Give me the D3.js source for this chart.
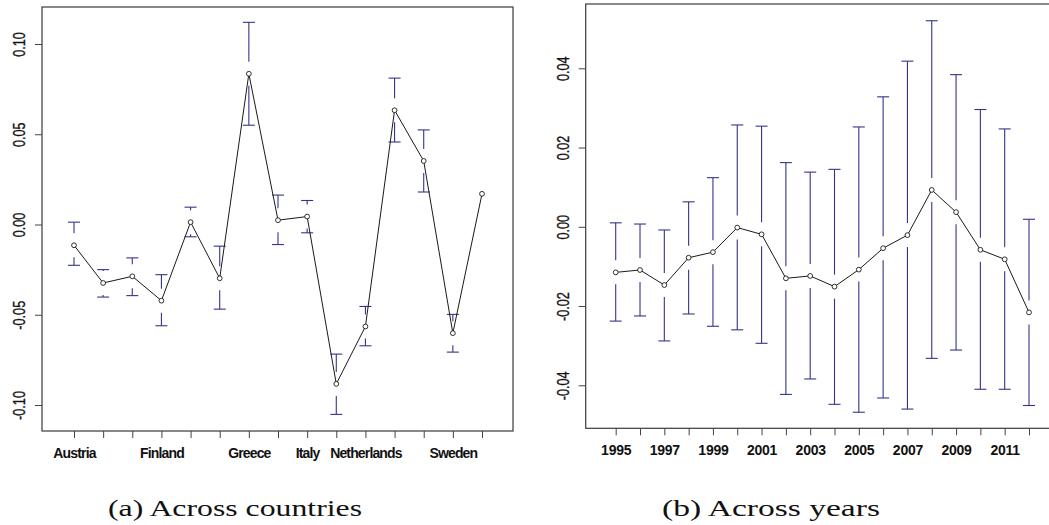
<!DOCTYPE html>
<html>
<head>
<meta charset="utf-8">
<script src="https://cdn.jsdelivr.net/npm/d3@7"></script>
<style>
  body { margin: 0; background: #fff; }
  svg { display: block; }
</style>
</head>
<body>
<div id="chart"></div>
<script>
// Estimates with confidence bars, by country (a) and by year (b)

const countries = ["Austria", "Belgium", "Denmark", "Finland", "France", "Germany", "Greece", "Ireland",
  "Italy", "Luxembourg", "Netherlands", "Portugal", "Spain", "Sweden", "United Kingdom"];
const countryLabels = ["Austria", "Finland", "Greece", "Italy", "Netherlands", "Sweden"];
const countryEst = [-0.0115, -0.0324, -0.0287, -0.0422, 0.0013, -0.0298, 0.0835, 0.0024,
  0.0044, -0.0883, -0.0565, 0.0633, 0.0352, -0.0602, 0.0170];
const countryUpper = [0.0013, -0.0250, -0.0185, -0.0278, 0.0096, -0.0120, 0.1120, 0.0163,
  0.0133, -0.0718, -0.0454, 0.0811, 0.0524, -0.0498, null];
const countryLower = [-0.0226, -0.0402, -0.0394, -0.0561, -0.0068, -0.0469, 0.0550, -0.0111,
  -0.0046, -0.1052, -0.0672, 0.0457, 0.0180, -0.0707, null];
const countryTicks = [-0.10, -0.05, 0.00, 0.05, 0.10];

const years = [1995, 1996, 1997, 1998, 1999, 2000, 2001, 2002, 2003, 2004, 2005, 2006,
  2007, 2008, 2009, 2010, 2011, 2012];
const yearLabels = [1995, 1997, 1999, 2001, 2003, 2005, 2007, 2009, 2011];
const yearEst = [-0.0115, -0.0109, -0.0147, -0.0078, -0.0064, -0.0002, -0.0019, -0.0130, -0.0124,
  -0.0151, -0.0108, -0.0054, -0.0021, 0.0093, 0.0037, -0.0058, -0.0082, -0.0216];
const yearUpper = [0.0010, 0.0007, -0.0008, 0.0063, 0.0124, 0.0257, 0.0254, 0.0162, 0.0138,
  0.0145, 0.0252, 0.0328, 0.0418, 0.0520, 0.0384, 0.0296, 0.0247, 0.0019];
const yearLower = [-0.0238, -0.0225, -0.0288, -0.0220, -0.0251, -0.0260, -0.0294, -0.0423, -0.0384,
  -0.0448, -0.0468, -0.0432, -0.0460, -0.0332, -0.0311, -0.0410, -0.0410, -0.0451];
const yearTicks = [-0.04, -0.02, 0.00, 0.02, 0.04];

const width = 1049, height = 525;
const barColor = "#34348c";

const svg = d3.select("#chart")
  .append("svg")
  .attr("width", width)
  .attr("height", height);

function panel(opts) {
  const { cats, est, upper, lower, labels, ticks, box, xRange, yDomain, yRange, labelSpacing, caption, capX, capLen } = opts;

  const x = d3.scalePoint().domain(cats).range(xRange);
  const y = d3.scaleLinear().domain(yDomain).range(yRange);
  const g = svg.append("g");

  // frame
  g.append("rect")
    .attr("x", box[0]).attr("y", box[1])
    .attr("width", box[2] - box[0]).attr("height", box[3] - box[1])
    .attr("fill", "none").attr("stroke", "#3a3a3a").attr("stroke-width", 1.2);

  // y axis: R style, labels parallel to the axis
  const yAxis = g.append("g")
    .attr("transform", `translate(${box[0]},0)`)
    .call(d3.axisLeft(y).tickValues(ticks).tickSize(7).tickFormat(d => d.toFixed(2)));
  yAxis.select(".domain").remove();
  yAxis.selectAll("line").attr("stroke", "#444");
  yAxis.selectAll("text")
    .attr("x", null).attr("dy", null)
    .attr("transform", "translate(-17,0) rotate(-90)")
    .attr("text-anchor", "middle")
    .attr("fill", "#111")
    .attr("stroke", "#111")
    .attr("stroke-width", 0.35)
    .style("font-family", "Liberation Sans, Arial, sans-serif")
    .style("font-size", "17px")
    .attr("textLength", d => d.toFixed(2).length > 4 ? 29 : 24.5)
    .attr("lengthAdjust", "spacingAndGlyphs");

  // x axis: ticks on every category, labels only on some
  const xAxis = g.append("g")
    .attr("transform", `translate(0,${box[3]})`)
    .call(d3.axisBottom(x).tickSize(7).tickFormat(d => labels.includes(d) ? d : ""));
  xAxis.select(".domain").remove();
  xAxis.selectAll("line").attr("stroke", "#444");
  xAxis.selectAll("text")
    .attr("y", 27)
    .attr("dy", null)
    .attr("fill", "#111")
    .style("font-family", "Liberation Sans, Arial, sans-serif")
    .style("font-size", "14px")
    .style("font-weight", "bold")
    .style("letter-spacing", labelSpacing + "px");

  // error bars with a gap around the point
  const gap = 12, cap = 6;
  const rows = cats.map((c, i) => ({ c, e: est[i], hi: upper[i], lo: lower[i] }));
  const bars = rows.filter(d => d.hi != null);
  const eb = g.append("g").attr("stroke", barColor).attr("stroke-width", 1.1);

  eb.selectAll(".up")
    .data(bars.filter(d => y(d.hi) < y(d.e) - gap))
    .join("line")
    .attr("x1", d => x(d.c)).attr("x2", d => x(d.c))
    .attr("y1", d => y(d.hi)).attr("y2", d => y(d.e) - gap);
  eb.selectAll(".down")
    .data(bars.filter(d => y(d.lo) > y(d.e) + gap))
    .join("line")
    .attr("x1", d => x(d.c)).attr("x2", d => x(d.c))
    .attr("y1", d => y(d.e) + gap).attr("y2", d => y(d.lo));
  eb.selectAll(".capHi")
    .data(bars)
    .join("line")
    .attr("x1", d => x(d.c) - cap).attr("x2", d => x(d.c) + cap)
    .attr("y1", d => y(d.hi)).attr("y2", d => y(d.hi));
  eb.selectAll(".capLo")
    .data(bars)
    .join("line")
    .attr("x1", d => x(d.c) - cap).attr("x2", d => x(d.c) + cap)
    .attr("y1", d => y(d.lo)).attr("y2", d => y(d.lo));

  // line + hollow points
  const line = d3.line().x(d => x(d.c)).y(d => y(d.e));
  g.append("path")
    .datum(rows)
    .attr("d", line)
    .attr("fill", "none")
    .attr("stroke", "#1a1a1a")
    .attr("stroke-width", 1);

  g.selectAll("circle")
    .data(rows)
    .join("circle")
    .attr("cx", d => x(d.c))
    .attr("cy", d => y(d.e))
    .attr("r", 2.4)
    .attr("fill", "#fff")
    .attr("stroke", "#1a1a1a")
    .attr("stroke-width", 0.9);

  // caption under the sub-figure
  svg.append("text")
    .attr("x", capX)
    .attr("y", 516)
    .attr("text-anchor", "middle")
    .attr("textLength", capLen)
    .attr("lengthAdjust", "spacingAndGlyphs")
    .style("font-family", "Liberation Serif, Times New Roman, serif")
    .style("font-size", "23px")
    .attr("fill", "#111")
    .text(caption);
}

panel({
  cats: countries, est: countryEst, upper: countryUpper, lower: countryLower,
  labels: countryLabels, ticks: countryTicks,
  box: [42, 7, 513, 431],
  xRange: [74, 482],
  yDomain: [-0.10, 0.10], yRange: [405, 44],
  labelSpacing: -0.85,
  caption: "(a) Across countries", capX: 235, capLen: 254
});

panel({
  cats: years, est: yearEst, upper: yearUpper, lower: yearLower,
  labels: yearLabels, ticks: yearTicks,
  box: [585.7, 4, 1060, 428.3],
  xRange: [615.7, 1029],
  yDomain: [-0.04, 0.04], yRange: [385.3, 68.3],
  labelSpacing: -0.25,
  caption: "(b) Across years", capX: 771, capLen: 218
});
</script>
</body>
</html>
